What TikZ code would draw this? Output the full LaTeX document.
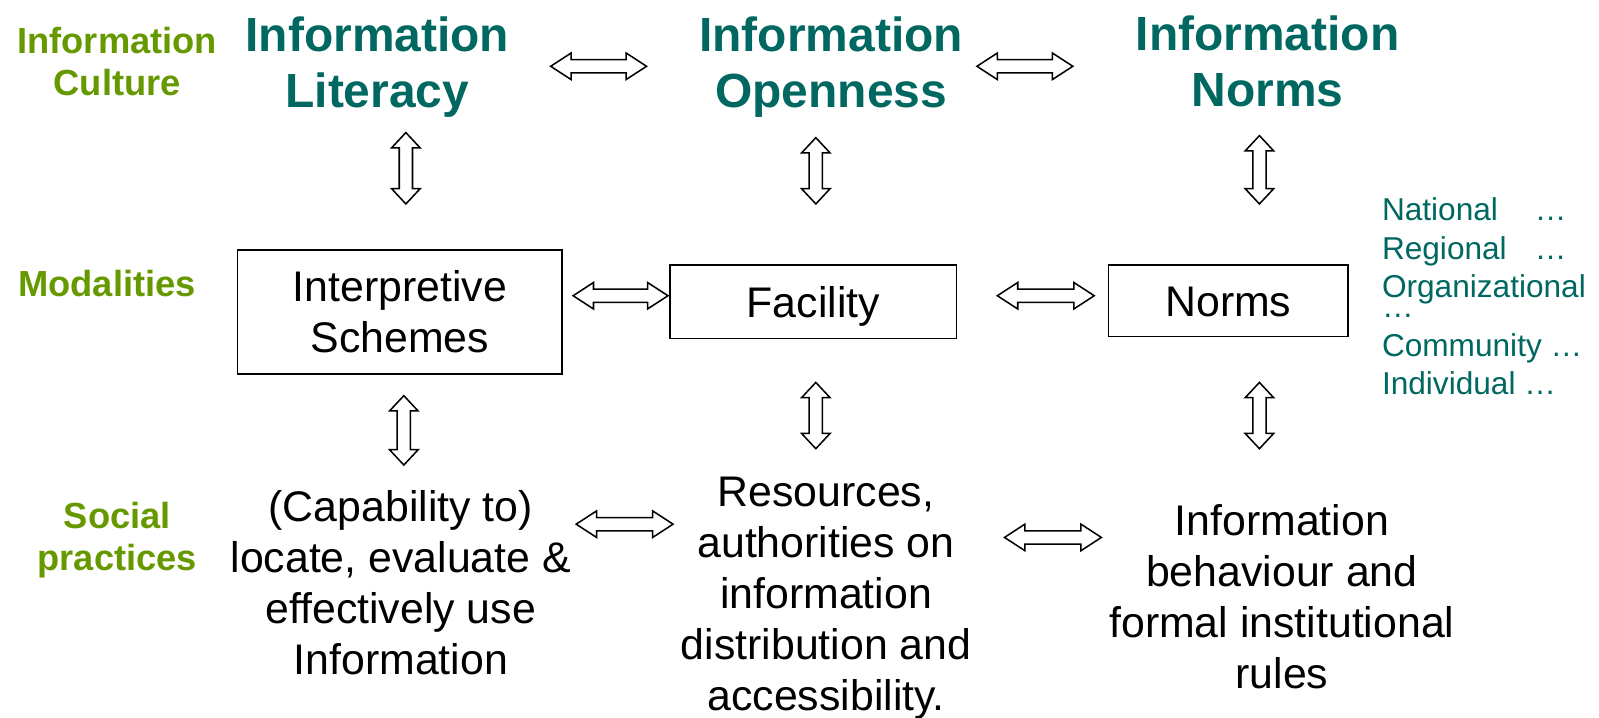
\documentclass[tikz,border=0pt]{standalone}
\usepackage{fontspec}
\setmainfont{Liberation Sans}
\definecolor{tealT}{RGB}{0,104,96}
\definecolor{greenL}{RGB}{102,153,0}
\tikzset{
 titletext/.style={text=tealT, font=\bfseries\fontsize{47}{55}\selectfont, align=center, inner sep=0pt},
 leveltext/.style={text=greenL, font=\bfseries\fontsize{35.6}{41}\selectfont, align=center, inner sep=0pt},
 bodytext/.style={font=\fontsize{42}{50}\selectfont, align=center, inner sep=0pt},
 boxnode/.style={draw, line width=1.6pt, font=\fontsize{42}{50}\selectfont, align=center, inner sep=0pt},
 listtext/.style={text=tealT, font=\fontsize{31}{37.5}\selectfont, align=left, inner sep=0pt},
 arrline/.style={draw, line width=1.5pt, fill=white, line join=miter},
}
% horizontal double block arrow: x1, x2, y
\newcommand\HDArrow[3]{%
 \draw[arrline] (#1,#3) -- (#1+20,#3-13) -- (#1+20,#3-6.5) -- (#2-20,#3-6.5) -- (#2-20,#3-13) -- (#2,#3)
   -- (#2-20,#3+13) -- (#2-20,#3+6.5) -- (#1+20,#3+6.5) -- (#1+20,#3+13) -- cycle;}
% vertical double block arrow: x, y1, y2
\newcommand\VDArrow[3]{%
 \draw[arrline] (#1,#2) -- (#1+14,#2+15) -- (#1+6.5,#2+15) -- (#1+6.5,#3-15) -- (#1+14,#3-15) -- (#1,#3)
   -- (#1-14,#3-15) -- (#1-6.5,#3-15) -- (#1-6.5,#2+15) -- (#1-14,#2+15) -- cycle;}
\begin{document}
\begin{tikzpicture}[x=1pt,y=-1pt]
\useasboundingbox (0,0) rectangle (1568,704);

% level labels
\node[leveltext] (culture) at (115,60) {Information\\Culture};
\node[leveltext] (modal) at (105,278) {Modalities};
\node[leveltext] (social) at (115,530) {Social\\practices};

% titles
\node[titletext] (litT) at (370,65.5) {Information\\Literacy};
\node[titletext] (openT) at (815,65.5) {Information\\Openness};
\node[titletext] (normT) at (1243,60.5) {Information\\Norms};

% boxes
\node[boxnode, minimum width=318pt, minimum height=122pt] (interp) at (392,306) {Interpretive\\Schemes};
\node[boxnode, minimum width=281pt, minimum height=72pt, text height=30pt, text depth=0pt] (facility) at (797.5,296) {Facility};
\node[boxnode, minimum width=235pt, minimum height=70pt, text height=30pt, text depth=0pt] (normsB) at (1204.5,295) {Norms};

% list
\node[listtext, anchor=north west] (levels) at (1355,194) {\makebox[150pt][l]{National}\dots\\\makebox[150pt][l]{Regional}\dots\\Organizational\\[-17.5pt]\dots\\Community \dots\\Individual \dots};

% social practices
\node[bodytext] (capab) at (393,571) {(Capability to)\\locate, evaluate \&\\effectively use\\Information};
\node[bodytext] (resources) at (810,587) {Resources,\\authorities on\\information\\distribution and\\accessibility.};
\node[bodytext] (behav) at (1257,585) {Information\\behaviour and\\formal institutional\\rules};

% horizontal arrows
\HDArrow{540}{634}{65}
\HDArrow{958}{1052}{65}
\HDArrow{562}{655}{290}
\HDArrow{978}{1073}{290}
\HDArrow{565}{660}{514}
\HDArrow{985}{1080}{527}

% vertical arrows
\VDArrow{398}{130}{200}
\VDArrow{800}{135}{200}
\VDArrow{1235}{133}{200}
\VDArrow{396}{388}{456}
\VDArrow{800}{375}{440}
\VDArrow{1235}{375}{440}
\end{tikzpicture}
\end{document}
